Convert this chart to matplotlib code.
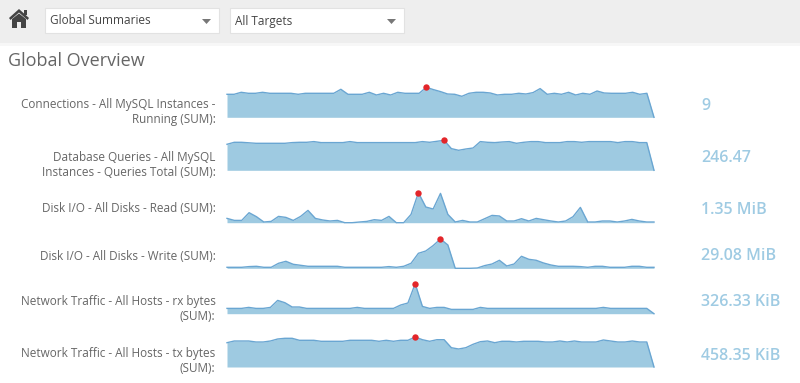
import numpy as np
import matplotlib
matplotlib.use('Agg')
import matplotlib.pyplot as plt
from matplotlib.patches import Rectangle, Polygon

plt.rcParams['font.family'] = ['Open Sans', 'DejaVu Sans']

W, H = 800, 383

titles = ['Connections - All MySQL Instances -\nRunning (SUM):',
          'Database Queries - All MySQL\nInstances - Queries Total (SUM):',
          'Disk I/O - All Disks - Read (SUM):',
          'Disk I/O - All Disks - Write (SUM):',
          'Network Traffic - All Hosts - rx bytes\n(SUM):',
          'Network Traffic - All Hosts - tx bytes\n(SUM):']
totals = ['9', '246.47', '1.35 MiB', '29.08 MiB', '326.33 KiB', '458.35 KiB']

connections = [23, 23, 25, 24, 24, 25, 24, 24, 24, 24, 23, 24, 24, 24, 24, 24, 28, 23, 23, 23,
               25, 22.3, 24, 22.3, 25, 24, 24, 24, 30, 27.7, 25.7, 23.3, 23, 21, 24, 25, 25, 24.3,
               22.3, 23, 23, 24, 23.3, 24.7, 28.7, 23, 24, 23, 25, 22.3, 24, 23, 26.3, 24.3, 24,
               24, 24, 25, 23, 24, 0]
queries = [26, 28, 28, 27.5, 27, 27, 27, 27, 27, 27.7, 28, 28, 28.7, 27.7, 27.7, 27.7, 27.7,
           28.7, 27.7, 27.7, 27.7, 27.7, 27.7, 27.7, 27.7, 27.7, 27.7, 28.7, 28, 29, 30, 21.7,
           20, 21.3, 22.3, 28.7, 28, 27.7, 28.3, 28.7, 27, 28, 28.7, 28.7, 27.7, 27.7, 27.7,
           28.7, 28.7, 28, 28.7, 28.7, 28.7, 28.7, 27.7, 28.7, 28.7, 27.7, 27.7, 0]
disk_read = [4.3, 2.3, 2.3, 10, 6, 0.7, 1.3, 6.3, 5.3, 2.3, 6.3, 12.3, 4.3, 2.7, 1.7, 2.3, 0, 0,
             0.7, 1.3, 3, 2.3, 6.3, 0, 0, 8.3, 30, 15.7, 13.7, 29.3, 8.3, 0.7, 2.3, 0.7, 0.7, 4,
             7.3, 6.7, 1.7, 1.7, 4, 1.7, 4.3, 3, 1.7, 0.7, 1.7, 6, 15.3, 0.7, 0.7, 1.7, 1.7,
             0.7, 1.7, 3.3, 1.7, 0.7, 0.7]
disk_write = [1, 1, 1, 1.7, 2, 1, 1, 5, 7, 4, 3, 2, 2, 2, 2, 2, 1, 1, 1, 1, 1, 1, 1.7, 1, 2, 5,
              15, 17.3, 22.7, 29.3, 23.3, 0, 0, 0, 0.3, 2.7, 4.3, 8, 2.3, 4.3, 12, 9, 8, 5.3,
              3.3, 2, 2, 2, 1.7, 1, 2, 2, 1, 1, 1, 2, 2, 1, 1]
net_rx = [5.3, 5.3, 5.3, 6.3, 5.3, 5.3, 6.3, 13.3, 11, 6.7, 6.7, 5.3, 5.3, 5.3, 5.3, 5.3, 5.3,
          5.3, 6.3, 5.3, 5.3, 5.3, 5.3, 5.3, 8.7, 10.7, 30, 7.3, 5.3, 6.3, 6.3, 4.3, 4.3, 4.3,
          4.3, 6.3, 5.3, 5.3, 5.3, 5.3, 5.3, 5.3, 5.3, 5.3, 5.3, 5.3, 5.3, 5.3, 5.3, 5.3, 5.3,
          5.3, 6.3, 5.3, 5.3, 5.3, 5.3, 5.3, 5.3, 0]
net_tx = [24.3, 26, 26, 26, 25, 25, 26, 28, 28.7, 28.7, 26.7, 26.7, 26.7, 25.7, 25.7, 25.7, 25.7,
          26.7, 26.7, 26.7, 26.7, 25.7, 26.7, 25.7, 26.7, 26.7, 30, 27.3, 25.7, 27.3, 27.3, 19.3,
          18, 19.3, 22.7, 25.3, 26, 24.3, 25.7, 25.7, 25, 25.7, 25.7, 25.7, 25, 25, 26, 25, 26,
          25, 25, 25, 27, 26, 25, 25, 26, 25, 25, 0]
series = [connections, queries, disk_read, disk_write, net_rx, net_tx]

baselines = [117.3, 170.3, 222.7, 268.3, 313.7, 367]
label_y = [112, 165, 209, 256, 308.5, 361.5]
total_y = [105.5, 158.5, 209.5, 256.5, 302.5, 355.5]

fig = plt.figure(figsize=(W / 100, H / 100), dpi=100)

# page chrome, drawn in pixel coordinates
bg = fig.add_axes([0, 0, 1, 1])
bg.set_xlim(0, W)
bg.set_ylim(H, 0)
bg.axis('off')
bg.add_patch(Rectangle((0, 0), W, 43, fc='#eeeeee', ec='none'))
bg.add_patch(Rectangle((0, 43), W, 3, fc='#f7f7f7', ec='none'))
for x0, x1, txt in [(45, 219, 'Global Summaries'), (230, 404, 'All Targets')]:
    bg.add_patch(Rectangle((x0, 8), x1 - x0, 25, fc='white', ec='#e2e2e2', lw=0.8))
    bg.text(x0 + 5, 21, txt, fontsize=8.5, color='#444444', va='center')
    bg.add_patch(Polygon([(x1 - 17, 19), (x1 - 8, 19), (x1 - 12.5, 24)], fc='#777777', ec='none'))
# home icon
bg.add_patch(Polygon([(9, 18), (19, 9), (29, 18), (27.5, 20), (19, 12.5), (10.5, 20)], fc='#444444', ec='none'))
bg.add_patch(Polygon([(12, 19), (19, 13.5), (26, 19), (26, 28), (21, 28), (21, 22), (17, 22), (17, 28), (12, 28)],
                     fc='#444444', ec='none'))
bg.add_patch(Rectangle((24, 10), 2.5, 5, fc='#444444', ec='none'))
bg.text(8, 60.5, 'Global Overview', fontsize=13, color='#666666', va='center')

for s, name, total, base, ly, ty in zip(series, titles, totals, baselines, label_y, total_y):
    bg.text(215.5, ly, name, fontsize=8.5, color='#666666', ha='right', va='center',
            multialignment='right', linespacing=1.2)
    bg.text(701, ty, total, fontsize=11.5, color='#9fcbe3', va='center', fontweight='semibold')

    y = np.array(s)
    x = np.arange(len(y))
    top = 40
    ax = fig.add_axes([227 / W, 1 - base / H, 427 / W, top / H])
    ax.patch.set_alpha(0)
    ax.fill_between(x, 0, y, color='#9ecae1', lw=0)
    ax.plot(x, y, color='#6aa6d2', lw=1.0)
    m = np.argmax(y)
    ax.plot(x[m], y[m], 'o', color='#e3262a', ms=4.6, mec='none')
    ax.set_xlim(0, len(y) - 1)
    ax.set_ylim(0, top)
    ax.axis('off')
    for artist in ax.lines:
        artist.set_clip_on(False)

fig.savefig('out.png', dpi=100)
